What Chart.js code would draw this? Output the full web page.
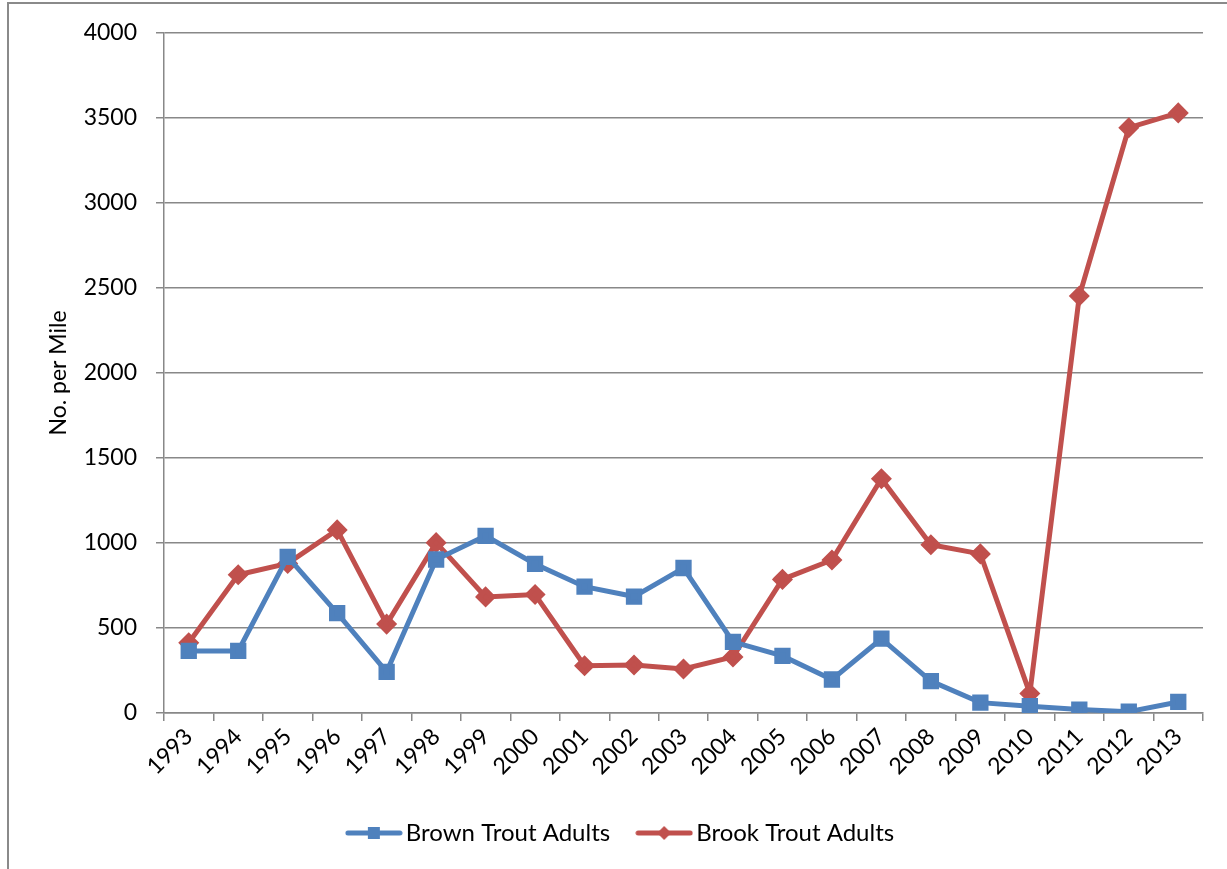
<!DOCTYPE html>
<html>
<head>
<meta charset="utf-8">
<script src="https://cdn.jsdelivr.net/npm/chart.js@4.4.0/dist/chart.umd.min.js"></script>
<style>
  html, body { margin: 0; padding: 0; background: #fff; overflow: hidden; }
  #frame { position: absolute; left: 7px; top: 2px; width: 1400px; height: 1000px;
           border-left: 2px solid #8a8a8a; border-top: 2px solid #8a8a8a; }
  #wrap { position: absolute; left: 0; top: 0; width: 1227px; height: 869px; }
</style>
</head>
<body>
<div id="frame"></div>
<div id="wrap"><canvas id="troutChart" width="1227" height="869"></canvas></div>
<script>
const years = ['1993', '1994', '1995', '1996', '1997', '1998', '1999', '2000', '2001', '2002',
               '2003', '2004', '2005', '2006', '2007', '2008', '2009', '2010', '2011', '2012', '2013'];
const brownTrout = [365, 365, 918, 587, 242, 903, 1042, 877, 743, 685,
                    853, 418, 336, 197, 437, 188, 61, 40, 20, 8, 65];
const brookTrout = [413, 813, 880, 1077, 523, 1002, 683, 697, 278, 282,
                    259, 330, 786, 900, 1378, 990, 936, 115, 2453, 3443, 3530];
const yTicks = [0, 500, 1000, 1500, 2000, 2500, 3000, 3500, 4000];

const BLUE = '#4F81BD';
const RED = '#C0504D';
const GRID = '#888888';
const FONT = 'Lato, "Open Sans", sans-serif';

// little line+marker picture for the legend
function legendIcon(color, shape) {
    const c = document.createElement('canvas');
    c.width = 58; c.height = 16;
    const g = c.getContext('2d');
    g.strokeStyle = color;
    g.lineWidth = 5;
    g.lineCap = 'round';
    g.beginPath(); g.moveTo(3, 8); g.lineTo(55, 8); g.stroke();
    g.fillStyle = color;
    if (shape === 'rect') {
        g.fillRect(23, 2, 12, 12);
    } else {
        g.beginPath(); g.moveTo(29, 1); g.lineTo(36, 8); g.lineTo(29, 15); g.lineTo(22, 8); g.closePath(); g.fill();
    }
    return c;
}

const ctx = document.getElementById('troutChart').getContext('2d');
new Chart(ctx, {
    type: 'line',
    data: {
        labels: years,
        datasets: [{
            label: 'Brown Trout Adults',
            data: brownTrout,
            borderColor: BLUE,
            backgroundColor: BLUE,
            borderWidth: 5,
            pointStyle: 'rect',
            pointRadius: 8,
            pointHoverRadius: 8,
            tension: 0,
            legendImage: legendIcon(BLUE, 'rect')
        }, {
            label: 'Brook Trout Adults',
            data: brookTrout,
            borderColor: RED,
            backgroundColor: RED,
            borderWidth: 5,
            pointStyle: 'rectRot',
            pointRadius: 7,
            pointHoverRadius: 7,
            tension: 0,
            legendImage: legendIcon(RED, 'diamond')
        }]
    },
    options: {
        responsive: false,
        animation: false,
        layout: { padding: { left: 45, right: 24, top: 33, bottom: 14 } },
        plugins: {
            tooltip: { enabled: false },
            legend: {
                position: 'bottom',
                labels: {
                    color: '#000',
                    font: { family: FONT, size: 24 },
                    usePointStyle: true,
                    pointStyleWidth: 40,
                    boxHeight: 16,
                    padding: 34,
                    generateLabels(chart) {
                        return chart.data.datasets.map((ds, i) => ({
                            text: ds.label,
                            pointStyle: ds.legendImage,
                            fillStyle: ds.borderColor,
                            strokeStyle: ds.borderColor,
                            lineWidth: 0,
                            hidden: false,
                            datasetIndex: i
                        }));
                    }
                }
            }
        },
        scales: {
            x: {
                offset: true,
                grid: { offset: true, drawOnChartArea: false, drawTicks: true, tickLength: 8,
                        color: GRID, lineWidth: 1.5 },
                border: { color: GRID, width: 1.5 },
                ticks: { color: '#000', font: { family: FONT, size: 23 },
                         maxRotation: 45, minRotation: 45, autoSkip: false, padding: 2 },
                afterFit(scale) { scale.height = 74; }
            },
            y: {
                min: 0,
                max: 4000,
                afterBuildTicks(scale) { scale.ticks = yTicks.map(v => ({ value: v })); },
                grid: { color: GRID, lineWidth: 1.5, tickLength: 8 },
                border: { color: GRID, width: 1.5 },
                ticks: { color: '#000', font: { family: FONT, size: 23 }, padding: 19,
                         callback: v => String(v) },
                title: { display: true, text: 'No. per Mile', color: '#000',
                         font: { family: FONT, size: 23 }, padding: 0 },
                afterFit(scale) { scale.width = 164 - 45; }
            }
        }
    }
});
</script>
</body>
</html>
